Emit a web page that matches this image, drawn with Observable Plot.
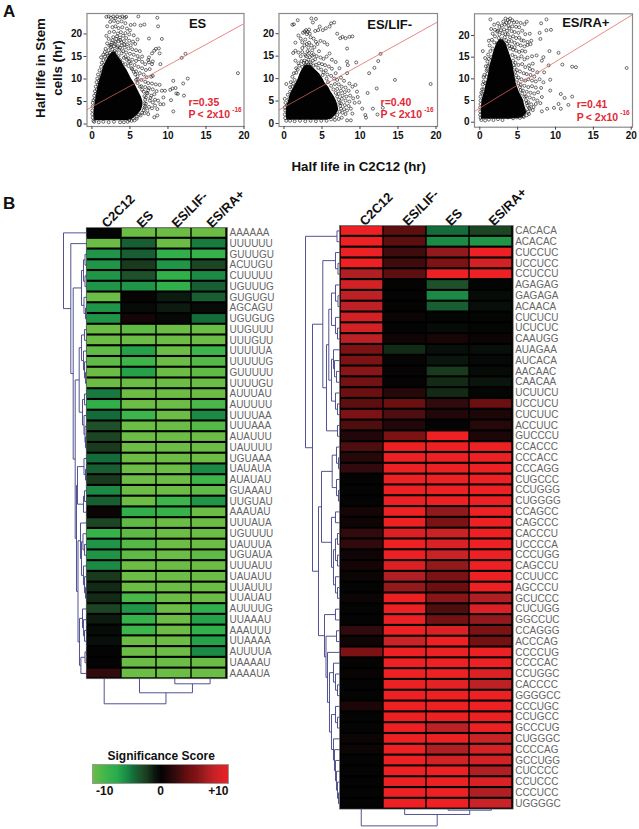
<!DOCTYPE html>
<html><head><meta charset="utf-8">
<script src="https://cdn.jsdelivr.net/npm/d3@7"></script>
<script src="https://cdn.jsdelivr.net/npm/@observablehq/plot@0.6"></script>
<style>
html,body{margin:0;background:#fff}
#page{position:relative;width:639px;height:829px;overflow:hidden;font-family:"Liberation Sans",Arial,sans-serif}
#page svg{position:absolute;overflow:visible;background:transparent}
.t{position:absolute;font-weight:bold;color:#111;white-space:nowrap;line-height:1}
</style></head><body><div id="page"></div>
<script>
// ---------- Panel A data ----------
const axisTicksX=[0,5,10,15,20], axisTicksY=[0,5,10,15,20];
// dense black body of each cloud: y, left edge x, right edge x
const esBodyY =[.7,1,2,3,4,5,6,7,8,9,10,11,12,13,14,15,16];
const esBodyX1=[.4,.3,.25,.3,.35,.45,.55,.65,.75,.9,1.05,1.25,1.4,1.6,1.9,2.2,2.7];
const esBodyX2=[4.6,5.3,6,6.5,6.7,6.7,6.5,6.2,5.9,5.6,5.2,4.9,4.6,4.2,3.9,3.4,3.1];
const lifBodyY =[.7,1,2,3,4,5,6,7,8,9,10,11,12,13];
const lifBodyX1=[.4,.35,.3,.3,.4,.6,.75,.95,1.3,1.6,1.9,2.1,2.4,2.8];
const lifBodyX2=[5.6,6.3,6.9,7.2,7.1,6.9,6.6,6.2,5.9,5.4,5.1,4.7,4.1,3.5];
const raBodyY =[.7,1,2,3,4,5,6,7,8,9,10,11,12,13,14,15,16,17,18,19];
const raBodyX1=[.3,.2,.2,.2,.25,.3,.45,.65,.75,.85,1.05,1.15,1.25,1.35,1.5,1.65,1.8,2,2.2,2.6];
const raBodyX2=[4,5.6,6.2,6.1,5.9,5.8,5.5,5.2,5,4.8,4.7,4.6,4.5,4.4,4.3,4.1,3.9,3.7,3.5,3.1];
// individually visible genes around the body: [C2C12, stem]
const esPoints=[[6.1,23.9],[8.6,23.6],[8.7,21.7],[6.9,22.1],[6.4,21.9],[7.5,19],[9.2,18.9],[8.4,16.7],[8.8,16.8],[8.2,16.3],[7.9,15.7],[8.9,15.7],[7.5,14.8],[7.4,14.2],[8,13.9],[7.5,13.7],[7.9,13.3],[9,13.3],[7.6,12.2],[8,10.7],[7.8,10.5],[7.2,10.4],[12.3,15.6],[11.8,14.7],[10.7,9.6],[12.6,10.1],[12,9],[11.3,6.7],[11.1,6.8],[11,8],[10.6,7.9],[10.3,7.6],[12.1,6.3],[10.4,5.3],[10.7,2.8],[9.6,7.4],[9.2,7.4],[9.4,5.9],[9.4,4.4],[9,4.4],[8.6,3.3],[8.2,1.5],[8.6,1.9],[6.9,2.4],[19.2,11.3],
[1.9,23.8],[2.2,23.9],[2.5,23.6],[2.8,23.9],[3.1,23.5],[3.3,23.9],[3.7,23.7],[4,23.9],[4.3,23.6],[4.5,23.8],[2.4,22.7],[2.9,22.9],[3.4,22.6],[3.9,22.8],[4.4,22.4],[5.1,22],[5.6,22.1],[2,21.7],[2.7,21.5],[3.1,21.7],[3.5,21.3],[4,21.5],[4.6,21.2],[5,20.8],[2.3,20.4],[2.9,20.5],[3.4,20.1],[3.8,20.4],[4.4,20.2],[4.9,19.9],[5.5,19.7],[1.9,19.6],[6,18.8],[2.2,18.9],[2.7,18.6],[3.2,18.9],[3.7,18.7],[4.2,18.4],[4.9,18.5],[5.4,18.3],[5.7,17.8],[5.1,17.5],[4.6,17.7],[2,17.9],[2.5,17.6],[3,17.8],[3.4,17.3],[3.9,17.5],[4.3,17],[4.8,16.8],[5.3,16.6],[5.8,16.4],[6.3,16.2],[1.8,16.7],[2.2,16.4],[2.7,16.6],[3,16.2],[3.6,16.5],[4.1,16.2],[4.5,15.9],[5,15.6],[5.5,15.4],[6,15.1],[6.6,15],[1.2,14.8],[1.5,15.4],[1.7,15],[4.4,15],[4.8,14.6],[5.3,14.3],[5.8,14],[6.2,14.4],[6.6,13.8],[7,13.3],[5.1,13.5],[5.6,13.1],[6.1,12.7],[6.6,12.4],[7.1,12],[5.3,12.2],[5.8,11.7],[6.3,11.3],[6.8,11],[1.2,12.7],[1,11.9],[.8,11],[.7,10.1],[.6,9.3],[.5,8.3],[.4,7.3],[.3,6.3],[.2,5.3],[6,9.9],[6.5,9.8],[7,9.4],[7.4,9.1],[7.9,9],[8.4,8.8],[8.9,8.7],[6.5,8.4],[7,8.2],[7.5,8],[8,7.7],[8.5,7.3],[6.8,7.2],[7.3,6.8],[7.8,6.3],[8.2,6.6],[8.3,5.4],[7.1,5.9],[7.6,5.2],[8,4.8],[7.1,4.5],[7.5,3.8],[6.9,3.6],[7.3,3],[6.4,1.9],[5.9,1.6],[5.4,1.2],[4.9,.9],[5.6,.8],
[1.6,13.2],[1.9,14.4],[2.1,15.2],[2.4,15.8],[2.8,15.4],[3.2,15.9],[3.5,15.1],[3.9,15.7],[4.2,14.7],[4.6,14.3],[4.9,13.8],[4.4,13.3],[4.8,12.9],[5.2,12.4],[5.5,11.6],[5.7,11],[6,10.6],[1.3,13.6],[1.5,14.2],[1.7,16],[2,15.6],[2.6,14.6],[3.3,14.9],[3.7,14.2],[4,13.6],[2.5,17.1],[2.9,17.3],[3.3,17],[3.7,16.9],[3.1,18.2],[3.5,18.4],[3.9,18.1],[4.3,17.6],[2.6,18.1],[2.3,17.4],[2.8,19.3],[3.3,19.5],[3.7,19.2],[4.1,19.6],[4.5,19.1],[6.9,6.2],[7,5.4],[6.9,4.6],[7,3.9],[6.8,3.1],[6.6,2.5],[6.2,2.1],[5.9,1.2],[5.2,.7],[4.7,.5],[4.2,.4],[3.7,.4],[7.2,6.9],[7.4,7.5],[6.6,7.6],[6.3,8.3],[6,9.1],[5.8,9.8],[.1,4.7],[.1,3.9],[.05,3],[.05,2.2],[.1,1.4],[.2,.7],[.3,.5],[.9,.4],[1.5,.5],[2.2,.4],[2.9,.5],[.4,5.6],[.55,6.7],[.65,7.7],[.8,8.7],[.95,9.7],[1.15,10.6],[1.3,11.5],[7.4,2.2],[7.9,3.5],[8.3,4.1],[7.7,5.8],[8.7,5.2]];
const lifPoints=[[19.3,8.8],[14.6,9.7],[12.7,15.5],[12.4,13.9],[11.9,12.4],[11.2,11.2],[12.2,7.8],[11,6.8],[13,3.5],[11.7,3.3],[12.3,2],[10.7,1.9],[10.8,1.3],[10.3,3.3],[9.5,13.6],[8.3,13.8],[8.3,16.7],[9,19.4],[8.6,19.3],[8.1,19],[7.7,19.3],[7.4,19],[7,20],[6.6,22.5],[6.2,22.3],[6,21.6],[5.5,21.2],[5.1,20.8],[4.7,21.6],[7.3,12.3],[6.8,11.2],[8.3,11.2],[8.4,13],[8.6,8.9],[9,8.2],[9.4,8.6],[9.6,7.1],[9.7,5.9],[9.9,4.7],[8.8,3.3],[9,2.2],[8.3,.7],[8.8,.7],[1.3,22.1],[1.8,23],[3.6,23.4],[4.2,23.3],[3.8,22.5],[1.1,22],
[2.9,20.8],[3.1,20.4],[2.7,20.5],[3.3,20.9],[2.5,20.2],[3,19.9],[3.4,20],[4.1,20.6],[4.5,20.8],[1.9,19.6],[2.2,18.9],[1.5,18],[3.3,18],[3,17.7],[3.6,17.4],[4,17],[2.7,17.4],[2.4,16.8],[3.2,16.9],[4.4,17.7],[4.8,18.4],[5.3,18.1],[5.7,17.6],[1.5,16.2],[1.2,15.7],[1.9,15.8],[2.4,15.9],[2.2,15],[2.8,15.3],[3.3,15.7],[3.9,15.4],[4.3,15],[4.8,14.7],[5.2,14.4],[5.6,14.9],[6,15.6],[6.3,14.2],[6.8,13.7],[1.5,14],[1.9,13.4],[2.3,13.9],[2.7,14],[3.2,14.2],[3.8,14],[5.4,13],[5.9,12.7],[6.3,12.2],[5.5,11.8],[1.6,12.3],[1.3,11.2],[1.1,10.4],[.9,9.2],[.8,8.1],[.3,8.8],[.5,6.4],[.1,5.5],[.2,4.6],[.1,3.6],[5.7,10.9],[6.2,10.6],[6.6,10],[7,9.7],[7.5,10.2],[7.9,9.5],[6.7,8.8],[7.2,8.7],[7.6,8.2],[8.1,8],[7,7.7],[7.5,7.3],[8,7],[8.5,7.3],[7.2,6.6],[7.7,6.2],[8.2,6],[8.7,6.2],[9.1,5.6],[7.6,5.5],[8.1,5.1],[8.6,4.9],[9.3,4.6],[7.5,4.5],[8,4.1],[8.5,3.9],[7.9,3.2],[8.3,2.9],[7.7,2.4],[8.1,2.1],[7.6,1.3],[7.2,1],[6.7,.8],
[2.4,12.6],[2.8,13],[3.1,12.7],[3.5,13.2],[3.9,12.9],[4.2,13.1],[4.5,12.4],[4.9,12],[5.2,11.4],[2.9,15],[3.4,14.8],[3.7,15.1],[4.6,13.4],[5,13.2],[4.1,14.3],[2.6,13.5],[3,13.7],[3.5,13.6],[3.2,13.1],[2,12.9],[1.8,12],[1.6,11.3],[1.4,9.7],[1.2,8.9],[1.1,8.2],[.8,7.1],[.6,5.4],[.4,4.1],[.15,2.9],[.1,2],[.15,1.2],[.3,.6],[.8,.6],[1.4,.5],[2.1,.6],[2.8,.5],[3.5,.6],[4.2,.5],[4.9,.6],[5.6,.6],[6.2,.9],[6.6,1.5],[7,1.9],[7.3,2.6],[7.5,3.3],[7.4,3.9],[7.3,4.6],[7.2,5.3],[7,6],[6.8,6.8],[6.5,7.6],[6.2,8.4],[5.8,9.2],[5.6,10],[5.1,10.8],[3.5,19.2],[3.9,18.9],[4.2,18.2],[2.8,18.7],[2.4,18.1],[3.7,16.3],[3.1,16.1],[4.6,16.1]];
const raPoints=[[19.4,12.5],[12.7,12.7],[12.2,12.8],[10.9,13.3],[10.4,16],[9.2,16.4],[8.8,23.7],[8.1,22.8],[9.4,21.3],[8.8,21.2],[7.9,20.6],[8,19.2],[6.6,20.4],[6.8,18.8],[6.7,18],[6.3,18.5],[5.8,18.8],[7.5,15.4],[8.4,15],[8.2,14.2],[9.1,13.1],[7,13.5],[6.5,13.1],[7.6,11.5],[8.5,11.5],[9.3,9.8],[8.4,9.2],[10.7,6.5],[11.2,5.6],[12.2,5.9],[11.7,4],[10.4,4.2],[9.8,3.3],[10.7,3.1],[8.9,3.1],[8.2,2.5],[9.3,7.3],[8.1,7.9],[8.2,5.8],[7.1,3.5],[6.5,1.9],[5.8,1.2],[.4,16.4],[.5,9.4],[1,11.2],[.7,14.8],[1.4,23.7],[1.9,22.5],[1.2,18.8],
[3.4,23.9],[3.7,23.6],[4,23.9],[4.3,23.5],[3.9,23.1],[3.1,23.2],[4.5,23],[4.9,23.1],[5.4,22.9],[5.9,22.6],[6.2,23.2],[2.4,22.8],[2.9,22.3],[3.3,22.5],[3.8,22.2],[4.3,22.1],[4.8,22],[5.2,21.9],[1.5,21.5],[2,21.3],[2.4,21.1],[4.2,21],[4.6,20.8],[5.1,20.6],[5.6,21.1],[6,20.3],[1.7,20.4],[2,19.8],[3.7,20.3],[4,19.6],[4.4,19.8],[4.8,19.4],[5.2,19.5],[5.5,18.9],[1.6,19],[1.9,18.4],[3.8,18.6],[4.2,18.7],[4.6,18.3],[5,18],[5.4,17.7],[5.9,17.5],[6.3,17.8],[1.3,17.7],[1.7,17],[1.4,16.4],[4,17],[4.4,16.7],[4.8,16.5],[5.2,16.2],[5.6,16.5],[6,16.3],[1.1,15.6],[1.5,15],[4.3,15.5],[4.7,15.1],[5.1,14.7],[5.5,15.2],[5.9,14.5],[6.3,14.9],[6.9,15.2],[1,14],[1.3,13.3],[.8,12.9],[.9,11.9],[.6,10.9],[.5,10.4],[.4,8.7],[.3,7.6],[.2,6.8],[4.7,13.7],[5.1,13.2],[5.6,13.4],[6,12.7],[6.6,12.3],[7,12],[4.9,12],[5.3,11.7],[5.8,11.3],[6.2,11.1],[6.7,10.9],[7.2,10.5],[5.1,10.3],[5.5,9.9],[6,9.6],[6.4,9.9],[6.9,9.6],[7.4,9.4],[7.9,9.9],[5.4,8.6],[5.9,8.4],[6.4,8.1],[6.9,8.3],[7.4,8],[5.7,7.3],[6.2,7],[6.7,6.8],[7.2,6.6],[7.7,6.9],[6.1,6],[6.6,5.7],[7.1,5.4],[7.6,5],[8,4.4],[6.4,4.6],[6.8,4.1],[7.4,4.2],[6.5,3.3],[7,2.8],[6,2.6],[6.2,1.6],[5.3,1],[3.7,1.1],
[2.3,18.2],[2.7,18.6],[3.1,18.3],[3.5,18.9],[2.5,19.4],[2.9,19.1],[3.3,19.6],[2.6,20.2],[3,20.5],[3.4,20.3],[2.3,20.9],[2.8,21.2],[3.2,21.4],[3.6,21.1],[3.9,21.7],[2.6,22],[3.5,22.9],[3.6,18.1],[3.9,17.6],[4.2,17.4],[4.6,17.3],[.1,5.9],[.1,5],[.1,4.2],[.05,3.4],[.05,2.5],[.05,1.7],[.1,1],[.2,.5],[.7,.4],[1.2,.6],[1.8,.5],[2.4,.7],[3,.5],[4.4,.9],[4.9,1.1],[5.7,1.4],[6.4,2.4],[6.6,3.1],[6.3,3.8],[6.2,4.4],[6.1,5.1],[5.9,5.9],[5.6,6.6],[5.4,7.4],[5.3,8.1],[5.1,9],[4.9,9.8],[4.8,10.8],[4.7,11.6],[4.6,12.6],[4.5,13.2],[4.4,14.2],[1.2,14.6],[1.1,13],[1,12.2],[.9,10.4],[.7,9],[.5,7.6],[.35,6.6]];
const esLine=[[-0.65,3.2],[20,22.3]], lifLine=[[-0.66,3],[20.2,22.6]], raLine=[[-0.7,2.5],[20.17,24.8]];

// ---------- Panel B data ----------
const sigDomain=[-10,-8,-6.5,-5,-4,-3,-2,-1,0,1,2,3,4,5,6,7,8,10];
const sigColors=["#6cbd45","#3db54a","#2bac4c","#1a8a45","#146c3a","#1e5029","#1a3a1e","#0c1a10","#030403","#1d0608","#300a0c","#4e0d0e","#6b0f10","#7d1214","#931a1c","#b01f23","#c92227","#ed2024"];

const leftRows=["AAAAAA","UUUUUU","GUUUGU","ACUUGU","CUUUUU","UGUUUG","GUGUGU","AGCAGU","UGUGUG","UUGUUU","UUUGUU","UUUUUA","UUUUUG","GUUUUU","UUUUGU","AUUUAU","AUUUUU","UUUUAA","UUUAAA","AUAUUU","UAUUUU","UGUAAA","UAUAUA","AUAUAU","GUAAAU","UUGUAU","AAAUAU","UUUAUA","UGUUUU","UAUUUA","UGUAUA","UUUAUU","UAUAUU","UUAUUU","UUAUAU","AUUUUG","UUAAAU","AAAUUU","UUAAAA","AUUUUA","UAAAAU","AAAAUA"];
const leftCols=["C2C12","ES","ES/LIF-","ES/RA+"];
const leftScores=[[0,-10,-10,-10],[-10,-3.5,-10,-4.5],[-5.5,-3.5,-7,-7.5],[-5.5,-2,-5.5,-2.5],[-5.5,-3,-7,-5],[-5.5,-5.5,-7,-3.5],[-10,.2,-1,-3.5],[-5.5,-.3,-1,-.3],[-5.5,.7,-.2,-4],[-10,-9.5,-10,-10],[-10,-10,-10,-10],[-9.5,-6,-10,-8],[-9.5,-8,-10,-9],[-10,-6,-10,-9.5],[-10,-10,-10,-10],[-4.5,-10,-10,-10],[-7,-10,-10,-8.5],[-4,-8,-10,-5],[-3,-10,-10,-9],[-2.5,-10,-10,-10],[-2,-10,-10,-10],[-4,-10,-10,-10],[-3.5,-10,-10,-5],[-2,-10,-10,-8],[-5,-10,-10,-9.5],[-3.5,-10,-8,-5.5],[.3,-7,-7.5,-10],[-2.5,-9.5,-10,-10],[-7.5,-9.5,-10,-10],[-5.5,-9,-10,-10],[-5.5,-9.5,-10,-9.5],[-5,-10,-10,-10],[-2,-10,-10,-10],[-1.5,-10,-10,-10],[-1.5,-8.5,-10,-10],[-2.5,-5.5,-10,-7],[-1,-7.5,-10,-6],[-.3,-8,-10,-7],[-.5,-10,-10,-6],[0,-10,-10,-5],[0,-10,-10,-10],[2,-10,-10,-10]];

const rightRows=["CACACA","ACACAC","CUCCUC","UCCUCC","CCUCCU","AGAGAG","GAGAGA","ACAACA","CUCUCU","UCUCUC","CAAUGG","AUAGAA","AUCACA","AACAAC","CAACAA","UCUUCU","UCCUCU","CUCUUC","ACCUUC","GUCCCU","CCACCC","CCCACC","CCCAGG","CUGCCC","CCUGGG","CUGGGG","CCAGCC","CAGCCC","CACCCU","UCCCCA","CCCUGG","CAGCCU","CCUUCC","AGCCCU","GCUCCC","CUCUGG","GGCCUC","CCAGGG","ACCCAG","CCCCUG","CCCCAC","CCUGGC","CACCCC","GGGGCC","CCCUGC","CCUGCC","GCCCUG","CUGGGC","CCCCAG","GCCUGG","CUCCCC","CCUCCC","CCCUCC","UGGGGC"];
const rightCols=["C2C12","ES/LIF-","ES","ES/RA+"];
const rightScores=[[10,3.5,-4,-2.5],[10,3.5,-5,-5.5],[10,2.5,6,10],[10,2.5,5,8.5],[7,3.5,10,10],[8.5,0,-3,0],[7.5,0,-5,-.3],[7.5,0,-3.5,-.5],[8.5,.3,-.1,-.1],[8.5,0,-.3,-.1],[7.5,.5,.8,.3],[5,-1.5,-.5,-.5],[5,.1,-.8,-.2],[5.5,.1,-2,-.3],[4.5,.1,-1.5,-.8],[4,1.5,-1.5,-.1],[3.5,4,2,4],[5,3,1.2,1],[3,1.2,0,1.5],[1.2,5,10,1],[3,10,10,10],[1.5,10,10,10],[2,10,10,10],[0,10,10,10],[0,10,10,10],[0,10,10,10],[.7,10,6,10],[.5,10,5,10],[2,9,8,10],[2,10,9,10],[.5,10,8,10],[.7,9,6,10],[.3,7,5,10],[0,6,4,10],[.3,10,5.5,7],[0,10,3,9],[0,10,4.5,6],[2,10,9,5],[.5,8,10,4.5],[5,10,10,10],[0,10,10,10],[.2,10,10,9],[0,10,9.5,7.5],[0,10,10,10],[1,10,10,10],[0,10,10,10],[0,10,7.5,10],[.3,10,10,8],[.3,10,7,8.5],[0,10,8.5,8.5],[0,10,10,7],[0,10,10,9],[0,10,10,7],[0,10,10,8]];

// dendrograms: [merge height, child, child]; a child is a row/column index or another merge
const leftRowTree=[23,0,[15.7,1,[13.3,
  [5,[3,[1.5,2,3],[1.5,4,5]],[2.5,6,[1,7,8]]],
  [11.3,
    [7.3,[5,[2,9,10],[3,11,[2,12,[1,13,14]]]],[4,[2,15,16],[2.5,17,[1.5,18,[1,19,20]]]]],
    [10,
      [9,[2.5,21,[1,22,23]],[3,[2,24,25],26]],
      [8.5,[6,27,[5,[3.5,28,[2,29,30]],[3,31,[2,32,[1,33,34]]]]],
           [7,[4,35,[3,36,[2,37,38]]],[5.6,[1.5,39,40],41]]]]]]]];
const rightRowTree=[34,[2.5,0,1],[27,
  [16.7,[4,2,[1.5,3,4]],[13,
    [10.7,[8,[4,5,[1.5,6,7]],[4,8,[2,9,10]]],[8,[6,11,[5,12,[3,13,14]]],[4,15,[2,16,17]]]],
    [2,18,19]]],
  [21,
    [18,[7.3,[3,20,[1,21,22]],[3,23,[1,24,25]]],[8,[4,26,27],[6,[4,[2,28,29],[2,30,31]],[4,32,[2,33,34]]]]],
    [15,[4,35,36],[13.5,[3,37,38],[12,39,[10,[6,40,[4,41,[2,42,43]]],[8,[4,44,[2,45,46]],[6,47,[5,48,[4,49,[3,50,[2,51,[1,52,53]]]]]]]]]]]]]];
const leftColTree=[25.3,0,[14.3,1,[5.3,2,3]]];
const rightColTree=[17.4,0,[6,1,[1.7,2,3]]];

const legendSteps=d3.range(-10,10,0.25);
const legendLabels=[{v:-8.2,t:"-10"},{v:0,t:"0"},{v:8.5,t:"+10"}];

// ---------- drawing ----------
const page=document.getElementById("page");
const font="Liberation Sans";
function put(el,left,top){el.style.left=left+"px";el.style.top=top+"px";page.appendChild(el);}
function label(text,left,top,size,extra){const d=document.createElement("div");d.className="t";d.textContent=text;d.style.left=left+"px";d.style.top=top+"px";d.style.fontSize=size+"px";if(extra)Object.assign(d.style,extra);page.appendChild(d);}
function segments(tree){
  const out=[];
  (function walk(n){
    if(typeof n==="number")return {pos:n,h:0};
    const a=walk(n[1]),b=walk(n[2]),h=n[0];
    out.push({h1:h,p1:a.pos,h2:h,p2:b.pos},{h1:h,p1:a.pos,h2:a.h,p2:a.pos},{h1:h,p1:b.pos,h2:b.h,p2:b.pos});
    return {pos:(a.pos+b.pos)/2,h};
  })(tree);
  return out;
}
const dendroColor="#3f3f88";

function scatter(o){
  const body=o.bodyY.map((y,i)=>({y,x1:o.bodyX1[i],x2:o.bodyX2[i]}));
  const line=o.line.map(([x,y])=>({x,y}));
  const pts=o.points.map(([x,y])=>({x,y}));
  const ann=[{x:o.ax,y:o.ry,t:"r",st:"italic",fs:10.5},{x:o.ax+.55,y:o.ry,t:o.r,st:"normal",fs:10.5},{x:o.ax,y:o.py,t:"P",st:"italic",fs:10.5},{x:o.ax+1.2,y:o.py,t:"< 2x10",st:"normal",fs:10.5},{x:o.ax+5.75,y:o.py+1.05,t:"-16",st:"normal",fs:6.5}];
  const svg=Plot.plot({width:o.w,height:145,marginLeft:o.ml,marginRight:o.mr,marginTop:o.mt,marginBottom:145-o.fb,
    x:{domain:o.xd},y:{domain:o.yd},style:{fontFamily:font},
    marks:[
      Plot.areaX(body,{y:"y",x1:"x1",x2:"x2",fill:"#020202"}),
      Plot.dot(pts,{x:"x",y:"y",r:1.5,stroke:"#111",strokeWidth:.7,strokeOpacity:.85}),
      Plot.line(line,{x:"x",y:"y",stroke:"#e2605c",strokeWidth:1,strokeOpacity:.75,clip:true}),
      Plot.frame({stroke:"#8a8a8a",strokeWidth:1.2}),
      Plot.axisX(axisTicksX,{anchor:"bottom",tickSize:3,tickPadding:2,fontSize:10,fontWeight:"bold",stroke:"#444",fill:"#111",label:null}),
      Plot.axisY(axisTicksY,{anchor:"left",tickSize:3,tickPadding:2,fontSize:10,fontWeight:"bold",stroke:"#444",fill:"#111",label:null}),
      Plot.text([o.title],{x:o.tx,y:o.ty,text:d=>d,fontSize:13,fontWeight:"bold",fill:"#111"}),
      Plot.text(ann,{x:"x",y:"y",text:"t",fontSize:"fs",fontStyle:"st",fontWeight:"bold",fill:"#e02a35",textAnchor:"start"})
    ]});
  put(svg,o.left,0);
}
scatter({title:"ES",left:60,w:195,ml:26.5,mr:11.5,mt:13,fb:126,xd:[-.65,20],yd:[-.55,24.55],line:esLine,points:esPoints,bodyY:esBodyY,bodyX1:esBodyX1,bodyX2:esBodyX2,tx:13.9,ty:22.3,r:"=0.35",ax:12.7,ry:4.8,py:2.1});
scatter({title:"ES/LIF-",left:252,w:195,ml:26.5,mr:10,mt:13,fb:126,xd:[-.66,20.2],yd:[-.67,24.5],line:lifLine,points:lifPoints,bodyY:lifBodyY,bodyX1:lifBodyX1,bodyX2:lifBodyX2,tx:13.9,ty:22,r:"=0.40",ax:12.7,ry:4.75,py:2});
scatter({title:"ES/RA+",left:448,w:191,ml:26,mr:7,mt:13.3,fb:126.7,xd:[-.7,20.17],yd:[-1.15,25],line:raLine,points:raPoints,bodyY:raBodyY,bodyX1:raBodyX1,bodyX2:raBodyX2,tx:14,ty:22.9,r:"=0.41",ax:12.8,ry:4.1,py:1.15});

function heat(o){
  const cells=o.rows.flatMap((r,i)=>o.cols.map((c,j)=>({r,c,v:o.scores[i][j]})));
  const svg=Plot.plot({width:o.w,height:o.h,marginLeft:o.ml,marginRight:o.mr,marginTop:o.mt,marginBottom:0,
    x:{domain:o.cols,padding:0,axis:null},y:{domain:o.rows,padding:0,axis:null},
    color:{type:"linear",domain:sigDomain,range:sigColors},style:{fontFamily:font},
    marks:[
      Plot.frame({fill:"#000",stroke:"#777",strokeWidth:.6}),
      Plot.cell(cells,{x:"c",y:"r",fill:"v",insetTop:1.1,insetBottom:1,insetLeft:.7,insetRight:.7}),
      Plot.axisX({anchor:"top",tickSize:0,tickPadding:2,tickRotate:-45,fontSize:13,fontWeight:"bold",fill:"#111",label:null}),
      Plot.axisY({anchor:"right",tickSize:0,tickPadding:2,fontSize:10,fill:"#666",label:null,ariaLabel:"motif"})
    ]});
  svg.querySelectorAll('g[aria-label="motif"] text').forEach(t=>{t.style.fontFamily='"Liberation Mono",monospace';t.style.letterSpacing="1px";});
  put(svg,o.left,o.top);
}
heat({rows:leftRows,cols:leftCols,scores:leftScores,left:70,top:176.7,w:210,h:501.3,ml:15.7,mr:53,mt:50});
heat({rows:rightRows,cols:rightCols,scores:rightScores,left:325,top:174.7,w:240,h:633.6,ml:14,mr:52.3,mt:50});

function rowDendro(tree,rows,left,top,w,h,maxH){
  const svg=Plot.plot({width:w,height:h,margin:0,x:{domain:[maxH,0],axis:null},y:{domain:[-.5,rows-.5],reverse:true,axis:null},
    marks:[Plot.link(segments(tree),{x1:"h1",y1:"p1",x2:"h2",y2:"p2",stroke:dendroColor,strokeWidth:1,strokeOpacity:.9})]});
  put(svg,left,top);
}
function colDendro(tree,cols,left,top,w,h,maxH){
  const svg=Plot.plot({width:w,height:h,margin:0,x:{domain:[-.5,cols-.5],axis:null},y:{domain:[maxH,0],axis:null},
    marks:[Plot.link(segments(tree),{x1:"p1",y1:"h1",x2:"p2",y2:"h2",stroke:dendroColor,strokeWidth:1,strokeOpacity:.9})]});
  put(svg,left,top);
}
rowDendro(leftRowTree,leftRows.length,55.7,226.7,30,451.3,30);
rowDendro(rightRowTree,rightRows.length,299,224.7,40,583.6,40);
colDendro(leftColTree,4,85.7,678,141.3,26,26);
colDendro(rightColTree,4,339,808.3,173.7,18,18);

// legend
const legendPlot=Plot.plot({width:136,height:19,margin:0,x:{domain:[-10,10],axis:null},y:{domain:[0,1],axis:null},
  color:{type:"linear",domain:sigDomain,range:sigColors},
  marks:[Plot.rect(legendSteps,{x1:d=>d,x2:d=>Math.min(10,d+.5),y1:0,y2:1,fill:d=>d}),Plot.frame({stroke:"#999",strokeWidth:1})]});
put(legendPlot,92,763.5);
const legendAxis=Plot.plot({width:136,height:16,margin:0,x:{domain:[-10,10],axis:null},y:{domain:[0,1],axis:null},style:{fontFamily:font},
  marks:[Plot.text(legendLabels,{x:"v",y:.5,text:"t",fontSize:12,fontWeight:"bold",fill:"#111"})]});
put(legendAxis,92,783);
label("Significance Score",107.5,750,12);

// headings
label("A",3,3,17);
label("B",3,195,17);
label("Half life in Stem",41,68,13.3,{transform:"translate(-50%,-50%) rotate(-90deg)"});
label("cells (hr)",58,68,13.3,{transform:"translate(-50%,-50%) rotate(-90deg)"});
label("Half life in C2C12 (hr)",291.5,160,13.3);
</script></body></html>
